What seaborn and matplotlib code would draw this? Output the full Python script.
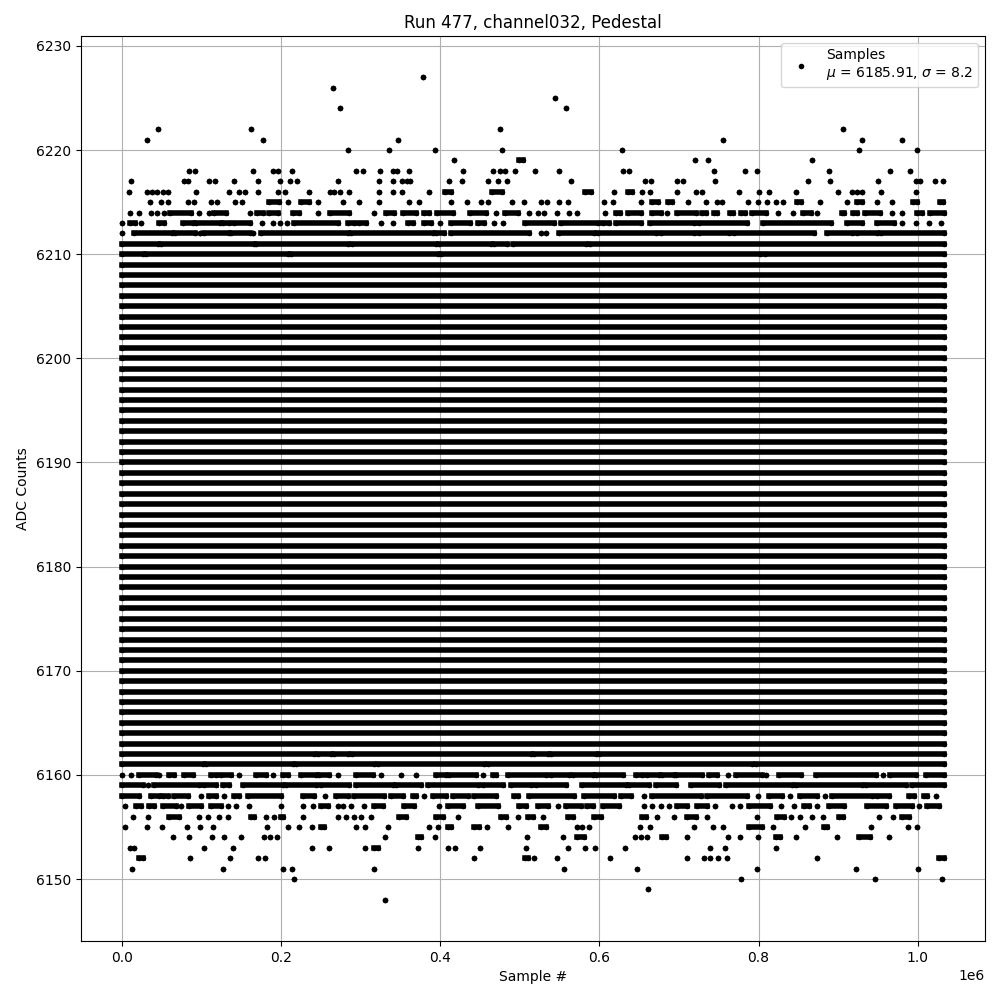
import numpy as np
import pandas as pd
import matplotlib.pyplot as plt
from matplotlib.lines import Line2D
import seaborn as sns

# chart texts
title = 'Run 477, channel032, Pedestal'
x_label = 'Sample #'
y_label = 'ADC Counts'
legend_label = 'Samples\n$\\mu$ = 6185.91, $\\sigma$ = 8.2'

# sample axis in thousands of samples
first_sample_k = 0
last_sample_k = 1033

# ADC codes that are filled over the whole run
solid_codes = list(range(6163, 6210))

# sparse / patchy codes: a number is a single sample, a tuple is a run of samples
upper_rows = {
    6227: [378.6],
    6226: [265.5],
    6225: [544.0],
    6224: [273.9, 558.2],
    6222: [45.6, 162.5, 475.3, 906.2],
    6221: [31.8, 177.6, 347.2, 755.4, 929.6, 979.9],
    6220: [283.9, 335.8, 393.6, 477.8, 628.6, 926.3, 998.7],
    6219: [417.5, (499.2, 503.4), 720.3, 737.0, 867.7],
    6218: [84.6, 92.1, 165.0, 190.1, 196.4, 214.0, 293.6, 303.2, 324.1, 340.9, 345.1,
           361.0, 428.8, 465.7, 475.3, 481.2, 494.1, 519.3, 549.4, 629.8, 637.4, 744.1,
           783.1, 798.2, 888.6, 965.2, 990.4],
    6217: [11.7, 77.5, 83.3, 108.9, 116.8, 141.1, 171.3, 198.1, 210.6, 219.4, 271.8,
           323.3, 340.9, 351.3, 358.0, 361.8, 411.2, 427.6, 460.2, 472.8, 484.1, 564.5,
           657.5, 664.6, 698.1, 705.6, 745.4, 862.2, 889.9, 950.2, 998.3, 1002.5,
           1021.8, 1031.8],
    6216: [8.4, 31.0, 37.7, 44.4, 51.1, 57.8, 93.4, 134.0, 146.6, 154.1, 171.3, 195.6,
           204.4, 235.3, 261.7, 266.7, 273.4, 285.6, 322.4, 340.9, 351.3, 385.3,
           (405.8, 413.3), (465.2, 477.0), (581.7, 590.0), 618.5, (635.3, 641.5), 654.1,
           663.7, 698.1, 721.1, 729.5, 775.5, 801.1, 813.2, 847.2, 900.3, 917.9, 924.2,
           930.5, 953.5, 998.3],
    6215: [35.6, 49.4, 57.4, 83.3, 90.9, 111.4, 118.9, 142.4, 151.2, (185.1, 197.2),
           208.1, (225.3, 235.3), 246.6, 277.2, 298.2, 323.3, 361.0, 373.5, 413.3, 433.8,
           451.0, 460.2, 489.9, 505.4, 526.8, 533.9, 549.4, 560.7, 605.9, 617.3, 652.8,
           (666.7, 673.0), (686.8, 691.8), 711.5, 734.5, 748.3, 754.6, 787.3, 799.8,
           811.1, 821.6, 830.8, (848.0, 853.8), 877.3, 911.6, (924.2, 930.5), 949.3,
           967.3, (994.1, 999.6), (1027.6, 1031.8)],
    6214: [10.5, 21.8, 36.8, 44.0, 53.2, (59.9, 87.1), 97.1, 108.9, (116.0, 130.7), 161.2,
           (169.2, 176.7), (185.1, 195.6), (215.2, 222.8), 245.8, (261.7, 285.6), 316.2,
           (331.7, 342.1), (352.6, 369.3), (379.0, 386.1), (395.7, 415.4), (437.2, 457.3),
           469.8, (481.2, 497.1), 511.7, 522.2, 530.6, 546.1, 562.0, 572.4, 606.8,
           (620.6, 626.0), (635.3, 652.0), (666.7, 677.1), 685.5, (698.1, 721.1),
           (728.6, 733.7), (744.1, 748.3), (764.2, 768.4), (777.6, 783.1), (792.3, 809.0),
           824.5, 843.8, (856.4, 865.6), 873.9, (904.5, 907.5), (919.2, 924.2),
           (933.4, 952.7), 967.3, 980.7, (999.6, 1005.9), (1015.5, 1033.0)],
    6213: [0.0, (10.5, 16.8), 24.3, (46.1, 52.8), (76.2, 89.2), (92.5, 122.7), (126.5, 134.8),
           (141.1, 161.2), 175.9, 190.1, 198.1, 207.3, (216.5, 270.9), (283.5, 291.9),
           (298.2, 306.5), 325.4, 340.0, (358.9, 365.2), (379.8, 388.2), 399.9,
           (413.3, 437.6), (446.8, 455.2), 467.8, 478.6, (506.3, 543.1), (551.5, 597.6),
           (605.1, 612.2), (620.6, 652.0), (663.7, 719.0), (725.3, 786.0), (806.1, 890.7),
           (910.8, 930.5), (949.3, 970.3), 980.7, 997.5, 1014.2, 1028.9],
    6212: [0.0, (15.5, 62.4), (66.6, 92.1), 98.4, (103.4, 134.8), (136.9, 161.2), 165.0,
           (174.6, 283.5), (287.7, 390.3), (394.5, 404.9), (413.3, 511.7), 526.4, 532.7,
           (549.4, 593.4), (597.6, 670.9), (677.1, 719.0), (725.3, 763.0), (769.3, 869.8),
           (886.5, 917.9), (924.2, 949.3), (953.5, 1033.0)],
    6211: [(0.0, 44.8), (48.9, 166.2), (168.3, 283.5), (288.5, 394.5), (398.7, 463.6),
           (467.8, 483.7), (490.8, 582.9), (588.4, 1033.0)],
    6210: [(0.0, 26.0), (30.0, 208.0), (212.0, 397.0), (401.0, 802.0), (808.0, 1033.0)],
}

lower_rows = {
    6162: [(0.0, 241.6), (246.6, 262.6), (266.7, 283.5), (288.5, 513.8), (518.0, 534.8),
           (538.9, 595.5), (599.7, 1033.0)],
    6161: [(0.0, 101.3), (105.5, 214.4), (218.6, 317.0), (321.2, 455.2), (460.2, 792.3),
           (796.5, 1033.0)],
    6160: [0.0, 11.3, (21.8, 42.7), 46.9, (59.5, 65.7), (78.3, 88.8), (111.8, 118.1),
           (124.4, 137.0), 147.4, (168.3, 180.9), 189.3, (201.9, 208.2), (224.9, 243.7),
           (247.9, 260.5), 270.9, (294.0, 314.9), 325.4, 350.5, 369.3, (394.5, 407.0),
           (411.2, 444.7), 453.1, (465.7, 469.8), (484.5, 532.7), (538.9, 562.0),
           (566.2, 591.3), (595.5, 629.0), (645.7, 654.1), (660.4, 675.0), (679.2, 693.8),
           (696.0, 729.5), (737.9, 748.3), 761.0, (771.4, 804.9), 809.0, (825.8, 853.0),
           (872.8, 948.2), 956.5, (964.8, 998.3), (1010.9, 1033.0)],
    6159: [(0.0, 26.0), 32.2, (40.6, 97.1), (103.4, 118.1), (126.5, 134.8), (151.6, 201.9),
           (206.0, 243.7), (250.0, 285.6), (294.0, 340.1), (344.2, 375.6), (384.0, 446.8),
           (453.1, 478.2), (488.7, 513.8), (520.1, 557.8), (578.7, 633.2), (637.4, 662.5),
           (670.9, 696.0), (714.8, 750.4), (758.8, 842.6), (846.7, 930.5), (934.7, 985.0),
           (993.3, 1033.0)],
    6158: [(0.0, 21.8), (36.4, 46.9), (51.1, 57.4), (65.7, 82.5), 99.2, (109.7, 118.1), 128.6,
           (141.1, 147.4), (157.9, 199.7), (227.0, 241.6), 255.4, (268.8, 283.5),
           (291.9, 329.6), (337.9, 352.6), (365.2, 369.3), 379.8, (390.3, 407.0),
           (415.4, 434.3), (442.6, 469.8), (492.9, 497.1), (511.7, 568.3), (580.8, 618.5),
           (626.9, 639.4), 656.2, (666.7, 727.4), (735.8, 786.0), 799.4, (813.2, 830.0),
           839.6, (852.2, 874.0), 883.2, (892.8, 943.0), (949.3, 964.0), (989.1, 995.4),
           (1008.0, 1012.1), 1022.6],
    6157: [4.2, (17.6, 23.9), (34.3, 40.6), (51.1, 67.8), 74.1, (84.6, 99.2), (111.8, 124.4),
           132.7, 143.2, 160.0, 199.7, 227.0, 239.5, (250.0, 258.4), 270.9, 277.2, 287.7,
           304.4, (317.0, 327.5), (354.7, 367.3), 398.7, (409.1, 428.0), (446.8, 471.9),
           (499.2, 507.5), (522.2, 534.8), 547.3, (557.8, 576.6), (585.0, 591.3),
           (603.9, 624.8), 656.2, 666.7, 677.1, 687.6, (698.1, 710.6), (722.4, 735.8), 745.4,
           766.3, 776.8, (788.1, 814.5), 827.9, 844.6, (857.2, 863.5), 873.1, (888.6, 907.5),
           (936.8, 959.8), (972.4, 993.3), 1001.7, (1012.1, 1026.8)],
    6156: [13.4, 32.2, (59.5, 72.0), 97.2, 107.6, 122.3, 132.7, (162.1, 166.2), 180.9, 191.4,
           (199.7, 201.8), 227.0, 270.9, 281.4, 291.9, 300.3, 313.2, (348.4, 356.8),
           (394.5, 402.8), 421.7, (476.1, 482.4), 497.9, (509.6, 515.9), 529.3,
           (559.9, 566.2), (593.4, 601.8), (654.1, 658.3), 672.9, 693.9, (709.8, 721.1),
           735.8, 798.6, (823.7, 832.1), 840.5, 851.8, 866.8, 881.1, (901.2, 906.2), 951.4,
           968.6, (980.7, 989.1)],
    6155: [4.2, 31.0, 50.3, 81.2, 98.4, 114.7, 181.7, 209.0, 222.8, 238.7, (250.0, 254.2),
           294.0, 305.7, 334.6, 386.1, 397.4, (409.1, 413.3), (442.6, 448.9), 458.1, 485.3,
           (526.4, 532.7), 571.6, 578.7, 587.1, 651.2, 663.7, 719.0, 742.9, 755.4,
           (788.1, 804.9), 818.3, 858.5, (882.3, 886.5), 941.4, 987.9, 998.7],
    6154: [63.7, 84.6, 112.6, 128.6, 149.9, 178.4, 186.3, 195.1, 330.4, (371.4, 375.6), 393.6,
           508.4, 554.0, (572.4, 580.8), 644.5, 652.0, 660.4, (679.2, 683.4), 709.8, 762.1,
           776.8, 799.4, (821.6, 827.1), 847.2, 898.3, (926.3, 940.1), 964.0],
    6153: [10.5, 15.5, 103.4, 139.9, 238.7, 260.5, 305.7, (317.0, 321.2), 372.3, 409.1, 418.8,
           450.2, 508.0, 560.7, 582.1, 594.6, 632.3, 739.1, 758.0, 822.0],
    6152: [(21.8, 26.0), 85.8, 136.1, 171.3, 180.1, 442.6, (506.3, 509.6), 518.0, 546.9, 613.1,
           710.2, 731.6, 739.1, 749.2, 760.9, 873.5, (1026.8, 1033.0)],
    6151: [12.6, 127.3, 202.3, 213.6, 317.0, 555.3, 647.4, 798.6, 923.0, 1000.4],
    6150: [216.1, 778.1, 946.4, 1030.6],
    6149: [660.8],
    6148: [330.8],
}

# build a long table: every run (or single sample) is one unit with two ends
rows = []
run_id = 0
all_rows = {c: [(first_sample_k, last_sample_k)] for c in solid_codes}
all_rows.update(upper_rows)
all_rows.update(lower_rows)
for code, entries in all_rows.items():
    for e in entries:
        a, b = (e, e) if not isinstance(e, tuple) else e
        a, b = max(a, first_sample_k), min(b, last_sample_k)
        rows.append({'sample': a * 1000, 'adc': code, 'run': run_id})
        rows.append({'sample': b * 1000, 'adc': code, 'run': run_id})
        run_id += 1
df = pd.DataFrame(rows)

fig, ax = plt.subplots(figsize=(10, 10), dpi=100)
fig.subplots_adjust(left=0.081, right=0.985, top=0.964, bottom=0.059)

sns.lineplot(data=df, x='sample', y='adc', units='run', estimator=None, sort=False,
             color='black', linewidth=4, marker='o', markersize=4,
             markeredgewidth=0, legend=False, ax=ax)

ax.set_yticks(np.arange(6150, 6231, 10))
ax.grid(True)
ax.set_title(title)
ax.set_xlabel(x_label)
ax.set_ylabel(y_label)

handle = Line2D([], [], color='black', marker='o', markersize=4,
                markeredgewidth=0, linestyle='None')
ax.legend([handle], [legend_label], loc='upper right')

fig.savefig('out.png', dpi=100)
